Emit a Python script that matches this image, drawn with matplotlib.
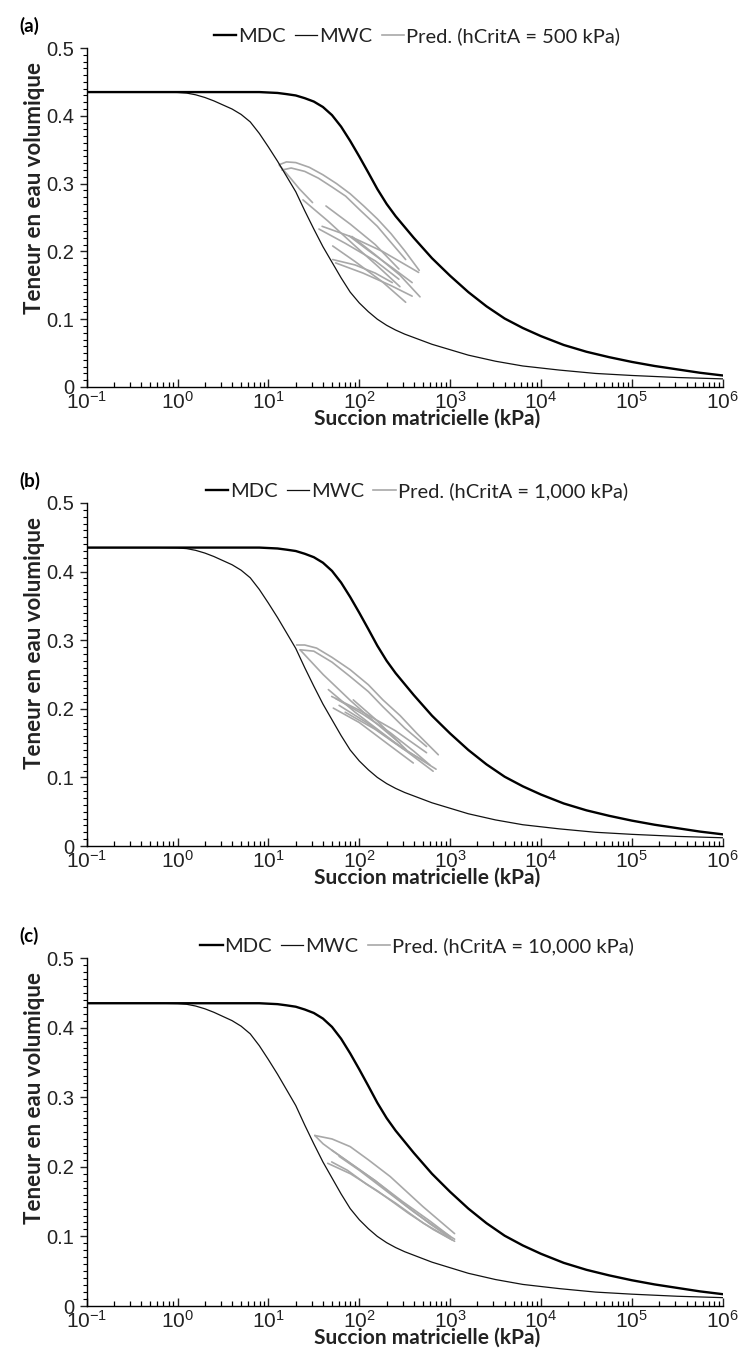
import numpy as np
import matplotlib
matplotlib.use("Agg")
import matplotlib.pyplot as plt
from matplotlib.ticker import LogLocator, MultipleLocator, FixedLocator, FixedFormatter
from matplotlib.lines import Line2D

# ---------------- data ----------------
# Main drying curve (MDC): suction (kPa) and volumetric water content
mdc_suction = [0.1, 1, 3.16, 7.94, 12.6, 15.8, 20.0, 25.1, 31.6, 39.8, 50.1, 63.1,
               79.4, 100, 126, 158, 200, 251, 316, 398, 501, 631, 794, 1000, 1585,
               2512, 3981, 6310, 10000, 17783, 31623, 56234, 100000, 177828,
               316228, 562341, 1000000]
mdc_theta = [0.435, 0.435, 0.435, 0.435, 0.4337, 0.432, 0.430, 0.426, 0.421, 0.413,
             0.401, 0.384, 0.363, 0.340, 0.316, 0.292, 0.270, 0.252, 0.236, 0.220,
             0.205, 0.190, 0.177, 0.164, 0.140, 0.119, 0.101, 0.087, 0.075, 0.062,
             0.052, 0.044, 0.037, 0.031, 0.026, 0.021, 0.017]

# Main wetting curve (MWC)
mwc_suction = [0.1, 0.63, 1.0, 1.26, 1.58, 2.0, 2.51, 3.16, 3.98, 5.01, 6.31, 7.94,
               10.0, 12.6, 15.8, 20.0, 25.1, 31.6, 39.8, 50.1, 63.1, 79.4, 100, 126,
               158, 200, 251, 316, 398, 631, 1000, 1585, 3162, 6310, 15849, 39811,
               100000, 316228, 1000000]
mwc_theta = [0.435, 0.435, 0.4345, 0.4335, 0.431, 0.427, 0.422, 0.416, 0.410, 0.402,
             0.391, 0.374, 0.354, 0.333, 0.311, 0.288, 0.260, 0.233, 0.207, 0.184,
             0.161, 0.140, 0.124, 0.111, 0.100, 0.091, 0.084, 0.078, 0.073, 0.063,
             0.055, 0.047, 0.038, 0.031, 0.025, 0.020, 0.017, 0.014, 0.012]

# Predicted scanning curves: (suction kPa, theta) polylines for each panel
pred_a = [
    ([13.2, 15.8, 20.0, 28.2, 39.8, 56.2, 79.4, 112, 158, 224, 316, 457],
     [0.328, 0.332, 0.331, 0.324, 0.313, 0.300, 0.285, 0.267, 0.248, 0.226, 0.201, 0.172]),
    ([14.1, 17.8, 25.1, 35.5, 50.1, 70.8, 100, 158, 224, 324],
     [0.320, 0.323, 0.318, 0.308, 0.295, 0.2815, 0.262, 0.237, 0.213, 0.188]),
    ([13.2, 17, 22, 30.6], [0.327, 0.310, 0.292, 0.272]),
    ([43, 80, 150, 273], [0.267, 0.240, 0.210, 0.174]),
    ([39, 80, 180, 450], [0.237, 0.222, 0.200, 0.169]),
    ([36, 70, 150, 273], [0.233, 0.212, 0.186, 0.159]),
    ([77, 130, 230, 382], [0.223, 0.200, 0.176, 0.154]),
    ([51, 90, 180, 324], [0.208, 0.185, 0.155, 0.125]),
    ([51, 90, 150, 231], [0.188, 0.180, 0.168, 0.154]),
    ([55, 110, 220, 382], [0.183, 0.168, 0.150, 0.134]),
    ([24, 45, 90, 160, 280], [0.276, 0.245, 0.208, 0.178, 0.148]),
    ([83, 150, 280, 466], [0.222, 0.195, 0.165, 0.133]),
]
pred_b = [
    ([20.4, 25.1, 33.9, 50.1, 79.4, 126, 182, 282, 427, 741],
     [0.293, 0.293, 0.2885, 0.275, 0.257, 0.235, 0.213, 0.190, 0.1646, 0.133]),
    ([22.4, 31.6, 50.1, 79.4, 126, 182, 316, 550],
     [0.286, 0.284, 0.268, 0.247, 0.225, 0.203, 0.172, 0.145]),
    ([45.7, 90, 200, 400, 650], [0.228, 0.195, 0.160, 0.130, 0.109]),
    ([51.8, 100, 200, 393], [0.201, 0.180, 0.150, 0.121]),
    ([49.7, 100, 250, 550], [0.218, 0.198, 0.168, 0.136]),
    ([22.3, 40, 80, 150, 280], [0.286, 0.250, 0.212, 0.180, 0.150]),
    ([85.9, 150, 331], [0.213, 0.185, 0.140]),
    ([60, 120, 250, 450, 700], [0.205, 0.180, 0.150, 0.128, 0.112]),
    ([55, 110, 220, 400, 600], [0.215, 0.192, 0.165, 0.138, 0.118]),
    ([70, 150, 300, 500], [0.195, 0.170, 0.142, 0.125]),
]
pred_c = [
    ([32.4, 50.1, 79.4, 126, 219, 500, 1120],
     [0.245, 0.240, 0.229, 0.210, 0.186, 0.143, 0.104]),
    ([32.4, 40, 49.7, 80, 150, 300, 600, 1000],
     [0.245, 0.233, 0.224, 0.205, 0.180, 0.150, 0.122, 0.100]),
    ([49.7, 74, 120, 250, 507, 1120], [0.207, 0.195, 0.175, 0.148, 0.119, 0.093]),
    ([49.7, 80, 150, 300, 600, 1000], [0.224, 0.205, 0.180, 0.148, 0.118, 0.098]),
    ([60, 100, 200, 400, 700, 1120], [0.215, 0.195, 0.165, 0.135, 0.113, 0.096]),
    ([45, 80, 160, 350, 650, 1050], [0.205, 0.190, 0.165, 0.133, 0.110, 0.095]),
]
panel_letters = ["(a)", "(b)", "(c)"]
hcrit_labels = ["Pred. (hCritA = 500 kPa)", "Pred. (hCritA = 1,000 kPa)",
                "Pred. (hCritA = 10,000 kPa)"]
preds = [pred_a, pred_b, pred_c]
xtick_vals = [1e-1, 1e0, 1e1, 1e2, 1e3, 1e4, 1e5, 1e6]
xtick_labels = [r"$\mathregular{10^{-1}}$", r"$\mathregular{10^{0}}$",
                r"$\mathregular{10^{1}}$", r"$\mathregular{10^{2}}$",
                r"$\mathregular{10^{3}}$", r"$\mathregular{10^{4}}$",
                r"$\mathregular{10^{5}}$", r"$\mathregular{10^{6}}$"]
ytick_vals = [0, 0.1, 0.2, 0.3, 0.4, 0.5]
ytick_labels = ["0", "0.1", "0.2", "0.3", "0.4", "0.5"]

# ---------------- figure ----------------
W, H = 747, 1353
fig = plt.figure(figsize=(W / 100, H / 100), dpi=100)
plt.rcParams['font.family'] = ['Lato', 'DejaVu Sans']
plt.rcParams['mathtext.fontset'] = 'custom'
plt.rcParams['mathtext.rm'] = 'Liberation Sans'
tick_font = 'Liberation Sans'

left, right = 86.7 / W, 722.7 / W
panels_px = [(48, 387), (503, 846), (958, 1306)]
gray = "#a8a8a8"

for i, (top_px, bot_px) in enumerate(panels_px):
    hpx = bot_px - top_px
    ax = fig.add_axes([left, 1 - bot_px / H, right - left, hpx / H])
    ax.set_xscale('log')
    ax.set_xlim(1e-1, 1e6)
    ax.set_ylim(0, 0.5)
    for sx, sy in preds[i]:
        ax.plot(sx, sy, color=gray, lw=1.2, solid_capstyle='round',
                solid_joinstyle='round')
    ax.plot(mwc_suction, mwc_theta, color="#111111", lw=0.9)
    ax.plot(mdc_suction, mdc_theta, color="#000000", lw=1.7)

    for s in ['top', 'right']:
        ax.spines[s].set_visible(False)
    ax.spines['left'].set_linewidth(1.0)
    ax.spines['bottom'].set_linewidth(1.0)

    ax.xaxis.set_major_locator(FixedLocator(xtick_vals))
    ax.xaxis.set_major_formatter(FixedFormatter(xtick_labels))
    ax.xaxis.set_minor_locator(LogLocator(base=10, subs=np.arange(2, 10), numticks=20))
    ax.tick_params(axis='x', which='major', direction='in', length=6, width=1.0,
                   labelsize=15, pad=3, colors='#222222')
    ax.tick_params(axis='x', which='minor', direction='in', length=3.5, width=0.9)
    ax.yaxis.set_major_locator(FixedLocator(ytick_vals))
    ax.yaxis.set_major_formatter(FixedFormatter(ytick_labels))
    ax.yaxis.set_minor_locator(MultipleLocator(0.01))
    ax.tick_params(axis='y', which='major', direction='out', length=5, width=1.0,
                   labelsize=14.5, pad=4, colors='#222222')
    ax.tick_params(axis='y', which='minor', direction='out', length=3, width=0.8)
    for lab in ax.get_xticklabels() + ax.get_yticklabels():
        lab.set_fontfamily(tick_font)

    ax.set_xlabel("Succion matricielle (kPa)", fontsize=15, fontweight='bold',
                  color='#222222')
    ax.xaxis.set_label_coords((427 - 86.7) / 636, -22 / hpx)
    ax.set_ylabel("Teneur en eau volumique", fontsize=16, fontweight='bold',
                  color='#222222')
    ax.yaxis.set_label_coords((45 - 86.7) / 636, (hpx - 140) / hpx)

    handles = [Line2D([], [], color='black', lw=1.7),
               Line2D([], [], color='#111111', lw=0.9),
               Line2D([], [], color=gray, lw=1.2)]
    ax.legend(handles, ["MDC", "MWC", hcrit_labels[i]], loc='center',
              bbox_to_anchor=((417 - 86.7) / 636, 1 + 12 / hpx), ncol=3,
              frameon=False, fontsize=14.5, handlelength=1.1, handletextpad=0.1,
              columnspacing=0.45, borderaxespad=0.0, borderpad=0.0,
              labelcolor='#222222')
    fig.text(19 / W, 1 - (top_px - 22) / H, panel_letters[i], fontsize=13.5,
             fontweight='bold', va='center', ha='left')

fig.savefig("out.png", dpi=100)
